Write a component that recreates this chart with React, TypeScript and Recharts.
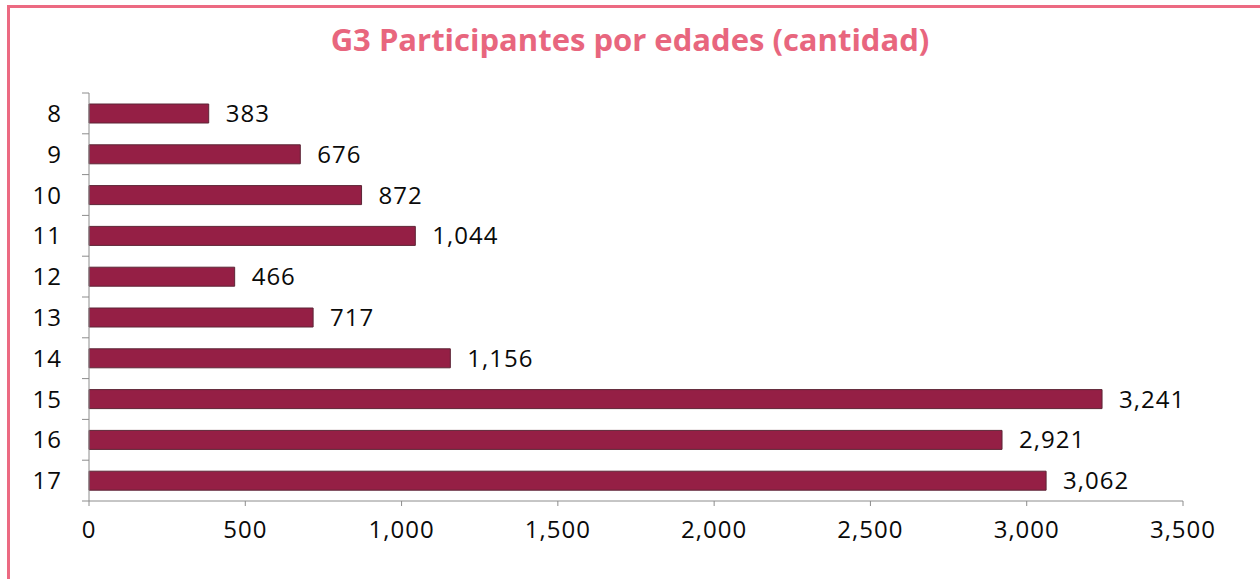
import React from 'react';
import { BarChart, Bar, XAxis, YAxis, LabelList } from 'recharts';

const ages = ['8', '9', '10', '11', '12', '13', '14', '15', '16', '17'];
const participants = [383, 676, 872, 1044, 466, 717, 1156, 3241, 2921, 3062];
const xTicks = [0, 500, 1000, 1500, 2000, 2500, 3000, 3500];

const data = ages.map((age, i) => ({ age, value: participants[i] }));

const W = 1260;
const H = 579;
const M = { top: 93, right: 77, bottom: 28, left: 0 };
const X_AXIS_H = 50;
const Y_AXIS_W = 89;
const FONT = '"Open Sans", Lato, sans-serif';
const TXT = { fill: '#0a0a0a', fontSize: 24, fontFamily: FONT, fontWeight: 500, letterSpacing: 1 };

const fmt = (v: number) => v.toLocaleString('en-US');

// half a category band, so the y ticks sit between bars like the original
const halfBand = (H - M.top - M.bottom - X_AXIS_H) / ages.length / 2;

const AgeTick = (props: any) => {
  const { x, y, payload, index } = props;
  return (
    <g>
      {index === 0 && <line x1={x + 20} x2={x + 27} y1={y - halfBand} y2={y - halfBand} stroke="#8c8c8c" />}
      <line x1={x + 20} x2={x + 27} y1={y + halfBand} y2={y + halfBand} stroke="#8c8c8c" />
      <text x={x} y={y} dy="0.36em" textAnchor="end" {...TXT}>
        {payload.value}
      </text>
    </g>
  );
};

export default function App() {
  return (
    <div style={{ position: 'absolute', left: 0, top: 0, width: W, height: H, background: '#fff', overflow: 'hidden' }}>
      <div
        style={{
          position: 'absolute',
          left: 7,
          top: 5,
          width: W,
          height: H,
          borderTop: '3px solid #ec6a82',
          borderLeft: '3px solid #ec6a82',
        }}
      />
      <div
        style={{
          position: 'absolute',
          left: 0,
          top: 19,
          width: W,
          textAlign: 'center',
          color: '#e8667e',
          fontFamily: FONT,
          fontWeight: 700,
          fontSize: 31,
          lineHeight: '40px',
        }}
      >
        G3 Participantes por edades (cantidad)
      </div>
      <div style={{ position: 'absolute', left: 0, top: 0 }}>
        <BarChart width={W} height={H} data={data} layout="vertical" margin={M}>
          <XAxis
            type="number"
            domain={[0, 3500]}
            ticks={xTicks}
            tickFormatter={fmt}
            height={X_AXIS_H}
            stroke="#8c8c8c"
            tickSize={5}
            tickMargin={15}
            tick={TXT}
          />
          <YAxis
            type="category"
            dataKey="age"
            width={Y_AXIS_W}
            stroke="#8c8c8c"
            tickLine={false}
            tickSize={0}
            tickMargin={27}
            tick={<AgeTick />}
          />
          <Bar dataKey="value" fill="#951f45" stroke="#5c2536" strokeWidth={1} barSize={19} isAnimationActive={false}>
            <LabelList
              dataKey="value"
              position="right"
              offset={17}
              formatter={(v: any) => fmt(Number(v))}
              {...TXT}
            />
          </Bar>
        </BarChart>
      </div>
    </div>
  );
}
